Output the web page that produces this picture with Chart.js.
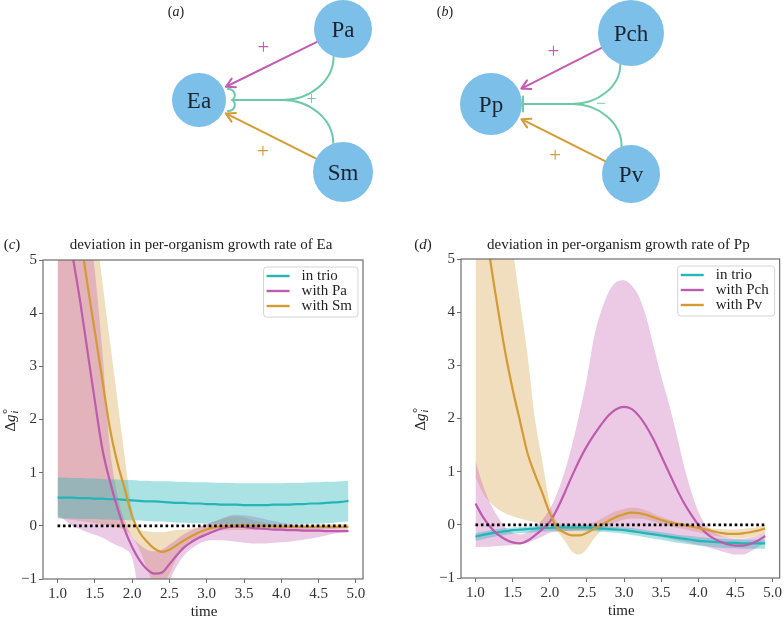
<!DOCTYPE html>
<html>
<head>
    <title>Deviation in per-organism growth rate</title>
    <script src="https://cdn.jsdelivr.net/npm/chart.js"></script>
    <style>
        body { margin: 0; background: #fff; }
        #wrap { position: relative; width: 784px; height: 620px; }
        canvas { position: absolute; }
    </style>
</head>
<body>
    <div id="wrap">
        <canvas id="nets" width="784" height="220" style="left:0;top:0"></canvas>
        <canvas id="panelC" width="392" height="400" style="left:0;top:220px"></canvas>
        <canvas id="panelD" width="392" height="400" style="left:392px;top:220px"></canvas>
    </div>

    <script>
        const SERIF = '"Liberation Serif", "DejaVu Serif", serif';

        // ---- network diagrams (a) and (b) ----
        const nodeNames = ['Ea', 'Pa', 'Sm', 'Pp', 'Pch', 'Pv'];
        const nodeX = [199, 343, 343, 491, 631, 631];
        const nodeY = [100, 29, 172, 104, 33, 174];
        const nodeR = [27, 29, 30, 31, 33, 29];

        const linkFrom = ['Pa', 'Sm', 'Pch', 'Pv'];
        const linkTo = ['Ea', 'Ea', 'Pp', 'Pp'];
        const linkKind = ['pink', 'orange', 'pink', 'orange'];
        const linkSign = ['+', '+', '+', '+'];

        const hoiA = ['Pa', 'Pch'];
        const hoiB = ['Sm', 'Pv'];
        const hoiTo = ['Ea', 'Pp'];
        const hoiSign = ['+', '\u2212'];
        const hoiEnd = ['brace', 'bar'];

        const netTags = ['a', 'b'];

        // ---- time series, panels (c) and (d) ----
        const times = [1.0,1.1,1.2,1.3,1.4,1.5,1.6,1.7,1.8,1.9,2.0,2.1,2.2,2.3,2.4,2.5,2.6,2.7,2.8,2.9,
                       3.0,3.1,3.2,3.3,3.4,3.5,3.6,3.7,3.8,3.9,4.0,4.1,4.2,4.3,4.4,4.5,4.6,4.7,4.8,4.9];
        const xTicks = [1.0, 1.5, 2.0, 2.5, 3.0, 3.5, 4.0, 4.5, 5.0];
        const yTicks = [-1, 0, 1, 2, 3, 4, 5];

        // Ea
        const eaTrio   = [0.53,0.53,0.53,0.52,0.52,0.51,0.51,0.50,0.50,0.49,0.48,0.47,0.46,0.46,0.45,0.44,0.43,0.43,0.42,0.42,
                          0.41,0.41,0.40,0.40,0.40,0.39,0.39,0.39,0.39,0.40,0.40,0.40,0.41,0.41,0.42,0.42,0.43,0.44,0.45,0.47];
        const eaTrioHi = [0.91,0.91,0.90,0.90,0.89,0.89,0.88,0.87,0.87,0.86,0.86,0.85,0.85,0.84,0.84,0.84,0.83,0.83,0.82,0.82,
                          0.82,0.81,0.81,0.81,0.80,0.80,0.80,0.80,0.80,0.80,0.80,0.81,0.81,0.81,0.82,0.82,0.83,0.83,0.84,0.85];
        const eaTrioLo = [0.14,0.14,0.14,0.13,0.13,0.13,0.12,0.12,0.11,0.11,0.10,0.10,0.09,0.08,0.08,0.07,0.06,0.06,0.05,0.05,
                          0.04,0.04,0.03,0.03,0.03,0.02,0.02,0.02,0.02,0.02,0.02,0.03,0.03,0.03,0.04,0.04,0.05,0.06,0.07,0.08];
        const eaPa     = [7.0,6.0,5.1,4.25,3.3,2.35,1.45,0.85,0.35,-0.07,-0.4,-0.65,-0.82,-0.9,-0.88,-0.72,-0.55,-0.4,-0.3,-0.22,
                          -0.16,-0.1,-0.05,-0.02,-0.01,-0.02,-0.04,-0.05,-0.06,-0.07,-0.07,-0.08,-0.08,-0.09,-0.09,-0.09,-0.1,-0.1,-0.1,-0.1];
        const eaPaHi   = [12,10,8.4,7.0,5.9,4.8,3.3,1.5,0.6,0.1,-0.2,-0.35,-0.45,-0.48,-0.45,-0.35,-0.25,-0.15,-0.08,-0.02,
                          0.03,0.08,0.14,0.19,0.21,0.2,0.18,0.15,0.12,0.09,0.06,0.04,0.02,0.0,-0.01,-0.02,-0.03,-0.04,-0.05,-0.06];
        const eaPaLo   = [0.2,0.1,0.0,-0.06,-0.12,-0.17,-0.22,-0.3,-0.37,-0.43,-0.6,-1.3,-1.6,-1.7,-1.5,-1.05,-0.75,-0.55,-0.42,-0.33,
                          -0.28,-0.27,-0.27,-0.28,-0.3,-0.32,-0.33,-0.33,-0.33,-0.32,-0.31,-0.3,-0.28,-0.26,-0.24,-0.21,-0.18,-0.15,-0.13,-0.11];
        const eaSm     = [8.7,7.6,6.5,5.5,4.55,3.65,2.75,1.85,1.2,0.7,0.18,-0.12,-0.3,-0.43,-0.49,-0.45,-0.36,-0.27,-0.19,-0.12,
                          -0.07,-0.03,-0.01,0.0,0.01,0.01,0.0,0.0,-0.01,-0.01,-0.02,-0.02,-0.02,-0.02,-0.02,-0.02,-0.02,-0.02,-0.02,-0.02];
        const eaSmHi   = [15,13,11,9,7.2,5.8,4.6,3.5,2.4,1.3,0.3,-0.08,-0.1,-0.12,-0.12,-0.1,-0.08,-0.07,-0.05,-0.02,
                          0.03,0.08,0.13,0.17,0.18,0.16,0.12,0.08,0.05,0.03,0.02,0.02,0.02,0.02,0.02,0.03,0.03,0.03,0.03,0.03];
        const eaSmLo   = [0.15,0.13,0.11,0.09,0.07,0.05,0.03,0.0,-0.03,-0.08,-0.2,-0.45,-0.8,-1.1,-1.1,-0.9,-0.6,-0.4,-0.28,-0.2,
                          -0.15,-0.11,-0.09,-0.08,-0.08,-0.08,-0.08,-0.08,-0.08,-0.08,-0.08,-0.08,-0.08,-0.08,-0.07,-0.07,-0.07,-0.06,-0.06,-0.06];

        // Pp
        const ppTrio   = [-0.22,-0.19,-0.16,-0.14,-0.12,-0.1,-0.09,-0.08,-0.07,-0.06,-0.06,-0.05,-0.05,-0.05,-0.05,-0.05,-0.06,-0.07,-0.08,-0.09,
                          -0.1,-0.12,-0.14,-0.16,-0.18,-0.2,-0.22,-0.24,-0.26,-0.28,-0.3,-0.31,-0.32,-0.33,-0.34,-0.34,-0.35,-0.35,-0.35,-0.35];
        const ppTrioHi = [-0.16,-0.13,-0.1,-0.08,-0.06,-0.05,-0.04,-0.03,-0.02,-0.01,-0.01,0.0,0.0,0.0,0.0,0.0,-0.01,-0.02,-0.03,-0.04,
                          -0.05,-0.06,-0.08,-0.1,-0.12,-0.14,-0.16,-0.18,-0.2,-0.21,-0.23,-0.24,-0.25,-0.26,-0.27,-0.27,-0.28,-0.28,-0.28,-0.28];
        const ppTrioLo = [-0.3,-0.27,-0.24,-0.21,-0.19,-0.17,-0.16,-0.15,-0.14,-0.13,-0.12,-0.11,-0.11,-0.11,-0.11,-0.11,-0.12,-0.13,-0.14,-0.15,
                          -0.17,-0.19,-0.21,-0.24,-0.26,-0.28,-0.31,-0.33,-0.35,-0.37,-0.39,-0.4,-0.42,-0.43,-0.44,-0.44,-0.45,-0.45,-0.45,-0.45];
        const ppPch    = [0.4,0.15,-0.04,-0.18,-0.27,-0.33,-0.35,-0.3,-0.2,-0.08,0.06,0.3,0.6,0.92,1.22,1.48,1.7,1.9,2.07,2.18,
                          2.22,2.18,2.05,1.85,1.6,1.3,1.0,0.7,0.43,0.2,0.0,-0.15,-0.25,-0.32,-0.37,-0.39,-0.39,-0.36,-0.3,-0.21];
        const ppPchHi  = [1.2,0.75,0.4,0.15,-0.05,-0.15,-0.18,-0.14,-0.05,0.1,0.3,0.6,1.0,1.5,2.1,2.75,3.55,4.05,4.4,4.57,
                          4.6,4.5,4.3,3.9,3.35,2.8,2.3,1.75,1.15,0.65,0.25,0.0,-0.12,-0.2,-0.24,-0.26,-0.26,-0.24,-0.2,-0.15];
        const ppPchLo  = [-0.42,-0.41,-0.41,-0.4,-0.39,-0.38,-0.36,-0.33,-0.28,-0.22,-0.15,-0.13,-0.12,-0.11,-0.1,-0.1,-0.1,-0.1,-0.1,-0.1,
                          -0.11,-0.12,-0.14,-0.17,-0.2,-0.23,-0.26,-0.29,-0.32,-0.35,-0.38,-0.41,-0.45,-0.49,-0.53,-0.56,-0.56,-0.5,-0.42,-0.33];
        const ppPv     = [7.1,6.0,4.97,4.08,3.25,2.55,1.95,1.35,0.95,0.6,0.22,-0.05,-0.15,-0.2,-0.2,-0.15,-0.07,0.0,0.08,0.15,
                          0.2,0.23,0.22,0.19,0.14,0.09,0.05,0.02,0.0,-0.03,-0.06,-0.09,-0.12,-0.15,-0.17,-0.17,-0.16,-0.14,-0.11,-0.07];
        const ppPvHi   = [14,11.5,9.5,7.8,6.3,5.2,4.2,3.2,2.0,1.2,0.4,0.05,-0.02,-0.04,-0.03,0.0,0.05,0.12,0.2,0.26,
                          0.3,0.32,0.31,0.27,0.21,0.15,0.1,0.06,0.03,0.0,-0.03,-0.05,-0.07,-0.08,-0.09,-0.09,-0.08,-0.06,-0.04,0.0];
        const ppPvLo   = [0.9,0.6,0.42,0.3,0.22,0.16,0.12,0.08,0.05,0.02,-0.03,-0.12,-0.3,-0.5,-0.56,-0.45,-0.25,-0.1,0.0,0.05,
                          0.1,0.12,0.12,0.1,0.06,0.02,-0.02,-0.05,-0.08,-0.11,-0.14,-0.17,-0.2,-0.22,-0.24,-0.25,-0.25,-0.23,-0.2,-0.15];

        const NODE = '#7cc0ea';
        const netColors = { pink: '#c45cb4', orange: '#d49b35', teal: '#6ccaa6' };
        const TEAL = '#23b5b8', PINK = '#bd5bae', ORANGE = '#d49a34';
        const TEAL_BAND = 'rgba(35,181,184,0.38)';
        const PINK_BAND = 'rgba(200,100,180,0.35)';
        const ORANGE_BAND = 'rgba(214,160,70,0.35)';

        function pts(vals) {
            return vals.map((v, i) => ({ x: times[i], y: v }));
        }

        // ---------- diagrams ----------
        function nodePix(chart, name) {
            const i = nodeNames.indexOf(name);
            return {
                x: chart.scales.x.getPixelForValue(nodeX[i]),
                y: chart.scales.y.getPixelForValue(nodeY[i]),
                r: nodeR[i]
            };
        }

        function drawSign(ctx, text, x, y, color, size) {
            ctx.fillStyle = color;
            ctx.font = size + 'px ' + SERIF;
            ctx.textAlign = 'center';
            ctx.textBaseline = 'alphabetic';
            // '+' and '−' sit on the math axis, about 0.25em above the baseline
            ctx.fillText(text, x, y + size * 0.26);
        }

        function drawLink(ctx, s, t, color, sign) {
            const dx = t.x - s.x, dy = t.y - s.y, L = Math.hypot(dx, dy);
            const ux = dx / L, uy = dy / L;
            const x1 = s.x + ux * s.r, y1 = s.y + uy * s.r;
            const x2 = t.x - ux * (t.r + 3), y2 = t.y - uy * (t.r + 3);
            ctx.strokeStyle = color;
            ctx.lineWidth = 2;
            ctx.lineCap = 'round';
            ctx.beginPath();
            ctx.moveTo(x1, y1);
            ctx.lineTo(x2, y2);
            const ang = Math.atan2(uy, ux);
            [0.5, -0.5].forEach(d => {
                ctx.moveTo(x2, y2);
                ctx.lineTo(x2 - 10 * Math.cos(ang + d), y2 - 10 * Math.sin(ang + d));
            });
            ctx.stroke();
            let nx = uy, ny = -ux;
            if (Math.sign(ny) !== Math.sign(s.y - t.y)) { nx = -nx; ny = -ny; }
            drawSign(ctx, sign, (x1 + x2) / 2 + nx * 18, (y1 + y2) / 2 + ny * 18, color, 21);
        }

        function drawHoi(ctx, a, b, t, sign, end) {
            const color = netColors.teal;
            const jx = t.x + 0.58 * ((a.x + b.x) / 2 - t.x), jy = t.y;
            ctx.strokeStyle = color;
            ctx.lineWidth = 2;
            ctx.beginPath();
            [a, b].forEach(src => {
                const dir = src.y < t.y ? 1 : -1;
                const sx = src.x + src.r * Math.cos(1.9);
                const sy = src.y + dir * src.r * Math.sin(1.9);
                ctx.moveTo(sx, sy);
                ctx.bezierCurveTo(sx, sy + dir * 0.55 * Math.abs(jy - sy), sx - 0.45 * (sx - jx), jy, jx, jy);
            });
            const ex = end === 'brace' ? t.x + t.r + 6 : t.x + t.r + 1;
            ctx.moveTo(jx, jy);
            ctx.lineTo(ex, jy);
            if (end === 'brace') {
                ctx.moveTo(ex - 4, jy - 11);
                ctx.bezierCurveTo(ex + 3, jy - 11, ex + 5, jy - 3, ex, jy);
                ctx.bezierCurveTo(ex + 5, jy + 3, ex + 3, jy + 11, ex - 4, jy + 11);
            } else {
                ctx.moveTo(ex, jy - 7.5);
                ctx.lineTo(ex, jy + 7.5);
            }
            ctx.stroke();
            drawSign(ctx, sign, jx + 29, jy, color, 18);
        }

        function drawTag(ctx, letter, x, y, size) {
            ctx.textBaseline = 'middle';
            ctx.textAlign = 'left';
            ctx.fillStyle = '#222';
            ctx.font = size + 'px ' + SERIF;
            const wp = ctx.measureText('(').width;
            ctx.font = 'italic ' + size + 'px ' + SERIF;
            const wl = ctx.measureText(letter).width;
            let cx = x - (2 * wp + wl) / 2;
            ctx.font = size + 'px ' + SERIF;
            ctx.fillText('(', cx, y); cx += wp;
            ctx.font = 'italic ' + size + 'px ' + SERIF;
            ctx.fillText(letter, cx, y); cx += wl;
            ctx.font = size + 'px ' + SERIF;
            ctx.fillText(')', cx, y);
        }

        const netDecor = {
            id: 'netDecor',
            beforeDatasetsDraw(chart) {
                const ctx = chart.ctx;
                ctx.save();
                linkFrom.forEach((f, i) => {
                    drawLink(ctx, nodePix(chart, f), nodePix(chart, linkTo[i]), netColors[linkKind[i]], linkSign[i]);
                });
                hoiTo.forEach((t, i) => {
                    drawHoi(ctx, nodePix(chart, hoiA[i]), nodePix(chart, hoiB[i]), nodePix(chart, t), hoiSign[i], hoiEnd[i]);
                });
                ctx.restore();
            },
            afterDatasetsDraw(chart) {
                const ctx = chart.ctx;
                ctx.save();
                ctx.fillStyle = '#1c2331';
                ctx.font = '23px ' + SERIF;
                ctx.textAlign = 'center';
                ctx.textBaseline = 'alphabetic';
                nodeNames.forEach(n => {
                    const p = nodePix(chart, n);
                    ctx.fillText(n, p.x, p.y + 7.8);
                });
                drawTag(ctx, netTags[0], 176, 12, 14);
                drawTag(ctx, netTags[1], 445, 12, 14);
                ctx.restore();
            }
        };

        new Chart(document.getElementById('nets'), {
            type: 'scatter',
            data: {
                datasets: [{
                    data: nodeNames.map((n, i) => ({ x: nodeX[i], y: nodeY[i] })),
                    pointRadius: ctx => nodeR[ctx.dataIndex],
                    pointBackgroundColor: NODE,
                    pointBorderWidth: 0,
                    pointBorderColor: NODE,
                    clip: false
                }]
            },
            options: {
                responsive: false,
                animation: false,
                layout: { padding: 0, autoPadding: false },
                plugins: { legend: { display: false }, tooltip: { enabled: false } },
                scales: {
                    x: { type: 'linear', min: 0, max: 784, display: false },
                    y: { type: 'linear', min: 0, max: 220, reverse: true, display: false }
                }
            },
            plugins: [netDecor]
        });

        // ---------- line panels ----------
        const panelDecor = {
            id: 'panelDecor',
            afterDraw(chart, args, opts) {
                const ctx = chart.ctx, a = chart.chartArea;
                const cx = (a.left + a.right) / 2 - 2;
                ctx.save();
                // frame
                ctx.strokeStyle = '#6e6e6e';
                ctx.lineWidth = 1.2;
                ctx.strokeRect(a.left, a.top, a.right - a.left, a.bottom - a.top);

                // title and tag
                ctx.fillStyle = '#222';
                ctx.font = '15px ' + SERIF;
                ctx.textAlign = 'center';
                ctx.textBaseline = 'middle';
                ctx.fillText(opts.title, cx, 25);
                drawTag(ctx, opts.letter, opts.letterX, 25, 15);

                // x label
                ctx.fillStyle = '#222';
                ctx.font = '15px ' + SERIF;
                ctx.textAlign = 'center';
                ctx.fillText('time', cx + 3, a.bottom + 33);

                // y label  Δg°_i
                ctx.save();
                ctx.translate(opts.ylabelX, (a.top + a.bottom) / 2);
                ctx.rotate(-Math.PI / 2);
                ctx.textAlign = 'left';
                ctx.textBaseline = 'alphabetic';
                ctx.font = '15px ' + SERIF;
                const wD = ctx.measureText('\u0394').width;
                ctx.font = 'italic 15px ' + SERIF;
                const wg = ctx.measureText('g').width;
                const start = -(wD + wg + 7) / 2;
                ctx.font = '15px ' + SERIF;
                ctx.fillText('\u0394', start, 5);
                ctx.font = 'italic 15px ' + SERIF;
                ctx.fillText('g', start + wD, 5);
                ctx.font = '13px ' + SERIF;
                ctx.fillText('\u00B0', start + wD + wg + 0.5, 1);
                ctx.font = 'italic 10px ' + SERIF;
                ctx.fillText('i', start + wD + wg + 1, 8);
                ctx.restore();

                // legend
                const items = chart.data.datasets.filter(d => d.legendEntry);
                ctx.font = '15px ' + SERIF;
                const maxW = Math.max(...items.map(d => ctx.measureText(d.label).width));
                const w = 38 + maxW + 6, h = 50;
                const x0 = a.right - 5 - w, y0 = a.top + 7;
                ctx.beginPath();
                ctx.roundRect(x0, y0, w, h, 3);
                ctx.fillStyle = 'rgba(255,255,255,0.85)';
                ctx.fill();
                ctx.strokeStyle = '#d4d4d4';
                ctx.lineWidth = 1;
                ctx.stroke();
                items.forEach((d, i) => {
                    const y = y0 + 9 + i * 15;
                    ctx.strokeStyle = d.borderColor;
                    ctx.lineWidth = 2.4;
                    ctx.beginPath();
                    ctx.moveTo(x0 + 3, y);
                    ctx.lineTo(x0 + 26, y);
                    ctx.stroke();
                    ctx.fillStyle = '#222';
                    ctx.textAlign = 'left';
                    ctx.textBaseline = 'middle';
                    ctx.fillText(d.label, x0 + 38, y + 0.5);
                });
                ctx.restore();
            }
        };

        function makePanel(id, series, deco, pad, xHeight) {
            const datasets = [];
            series.forEach(s => {
                datasets.push({ data: pts(s.lo), borderWidth: 0, borderColor: 'transparent', pointRadius: 0,
                                fill: false, cubicInterpolationMode: 'monotone', order: 10 });
                datasets.push({ data: pts(s.hi), borderWidth: 0, borderColor: 'transparent', pointRadius: 0,
                                fill: '-1', backgroundColor: s.band, cubicInterpolationMode: 'monotone', order: 10 });
            });
            series.forEach((s, k) => {
                datasets.push({ label: s.label, legendEntry: true, data: pts(s.mean), borderColor: s.color,
                                borderWidth: 2.2, pointRadius: 0, fill: false,
                                cubicInterpolationMode: 'monotone', order: 5 - k });
            });
            datasets.push({ data: [{ x: times[0], y: 0 }, { x: times[times.length - 1], y: 0 }],
                            borderColor: '#000', borderWidth: 2.6, borderDash: [2.6, 2.8],
                            pointRadius: 0, fill: false, order: 0 });

            const tickFont = { family: SERIF, size: 15 };
            return new Chart(document.getElementById(id), {
                type: 'line',
                data: { datasets },
                options: {
                    responsive: false,
                    animation: false,
                    layout: { padding: pad, autoPadding: false },
                    plugins: {
                        legend: { display: false },
                        tooltip: { enabled: false },
                        filler: { drawTime: 'beforeDatasetsDraw' },
                        panelDecor: deco
                    },
                    scales: {
                        x: {
                            type: 'linear', min: 0.805, max: 5.095,
                            afterBuildTicks: s => { s.ticks = xTicks.map(v => ({ value: v })); },
                            afterFit: s => { s.height = xHeight; },
                            grid: { drawOnChartArea: false, drawTicks: true, tickLength: 4, color: '#6e6e6e' },
                            border: { display: false },
                            ticks: { font: tickFont, color: '#333', padding: 2, maxRotation: 0, autoSkip: false,
                                     callback: v => v.toFixed(1) }
                        },
                        y: {
                            type: 'linear', min: -1, max: 5,
                            afterBuildTicks: s => { s.ticks = yTicks.map(v => ({ value: v })); },
                            afterFit: s => { s.width = 43; },
                            grid: { drawOnChartArea: false, drawTicks: true, tickLength: 4, color: '#6e6e6e' },
                            border: { display: false },
                            ticks: { font: tickFont, color: '#333', padding: 2, autoSkip: false,
                                     callback: v => v < 0 ? '\u2212' + Math.abs(v) : String(v) }
                        }
                    }
                },
                plugins: [panelDecor]
            });
        }

        makePanel('panelC', [
            { label: 'in trio', color: TEAL, band: TEAL_BAND, mean: eaTrio, lo: eaTrioLo, hi: eaTrioHi },
            { label: 'with Pa', color: PINK, band: PINK_BAND, mean: eaPa, lo: eaPaLo, hi: eaPaHi },
            { label: 'with Sm', color: ORANGE, band: ORANGE_BAND, mean: eaSm, lo: eaSmLo, hi: eaSmHi }
        ], { title: 'deviation in per-organism growth rate of Ea', letter: 'c', letterX: 12, ylabelX: 10 },
           { left: 0, top: 40, right: 29, bottom: 0 }, 41);

        makePanel('panelD', [
            { label: 'in trio', color: TEAL, band: TEAL_BAND, mean: ppTrio, lo: ppTrioLo, hi: ppTrioHi },
            { label: 'with Pch', color: PINK, band: PINK_BAND, mean: ppPch, lo: ppPchLo, hi: ppPchHi },
            { label: 'with Pv', color: ORANGE, band: ORANGE_BAND, mean: ppPv, lo: ppPvLo, hi: ppPvHi }
        ], { title: 'deviation in per-organism growth rate of Pp', letter: 'd', letterX: 31, ylabelX: 28 },
           { left: 26, top: 39, right: 2, bottom: 0 }, 42);
    </script>
</body>
</html>
